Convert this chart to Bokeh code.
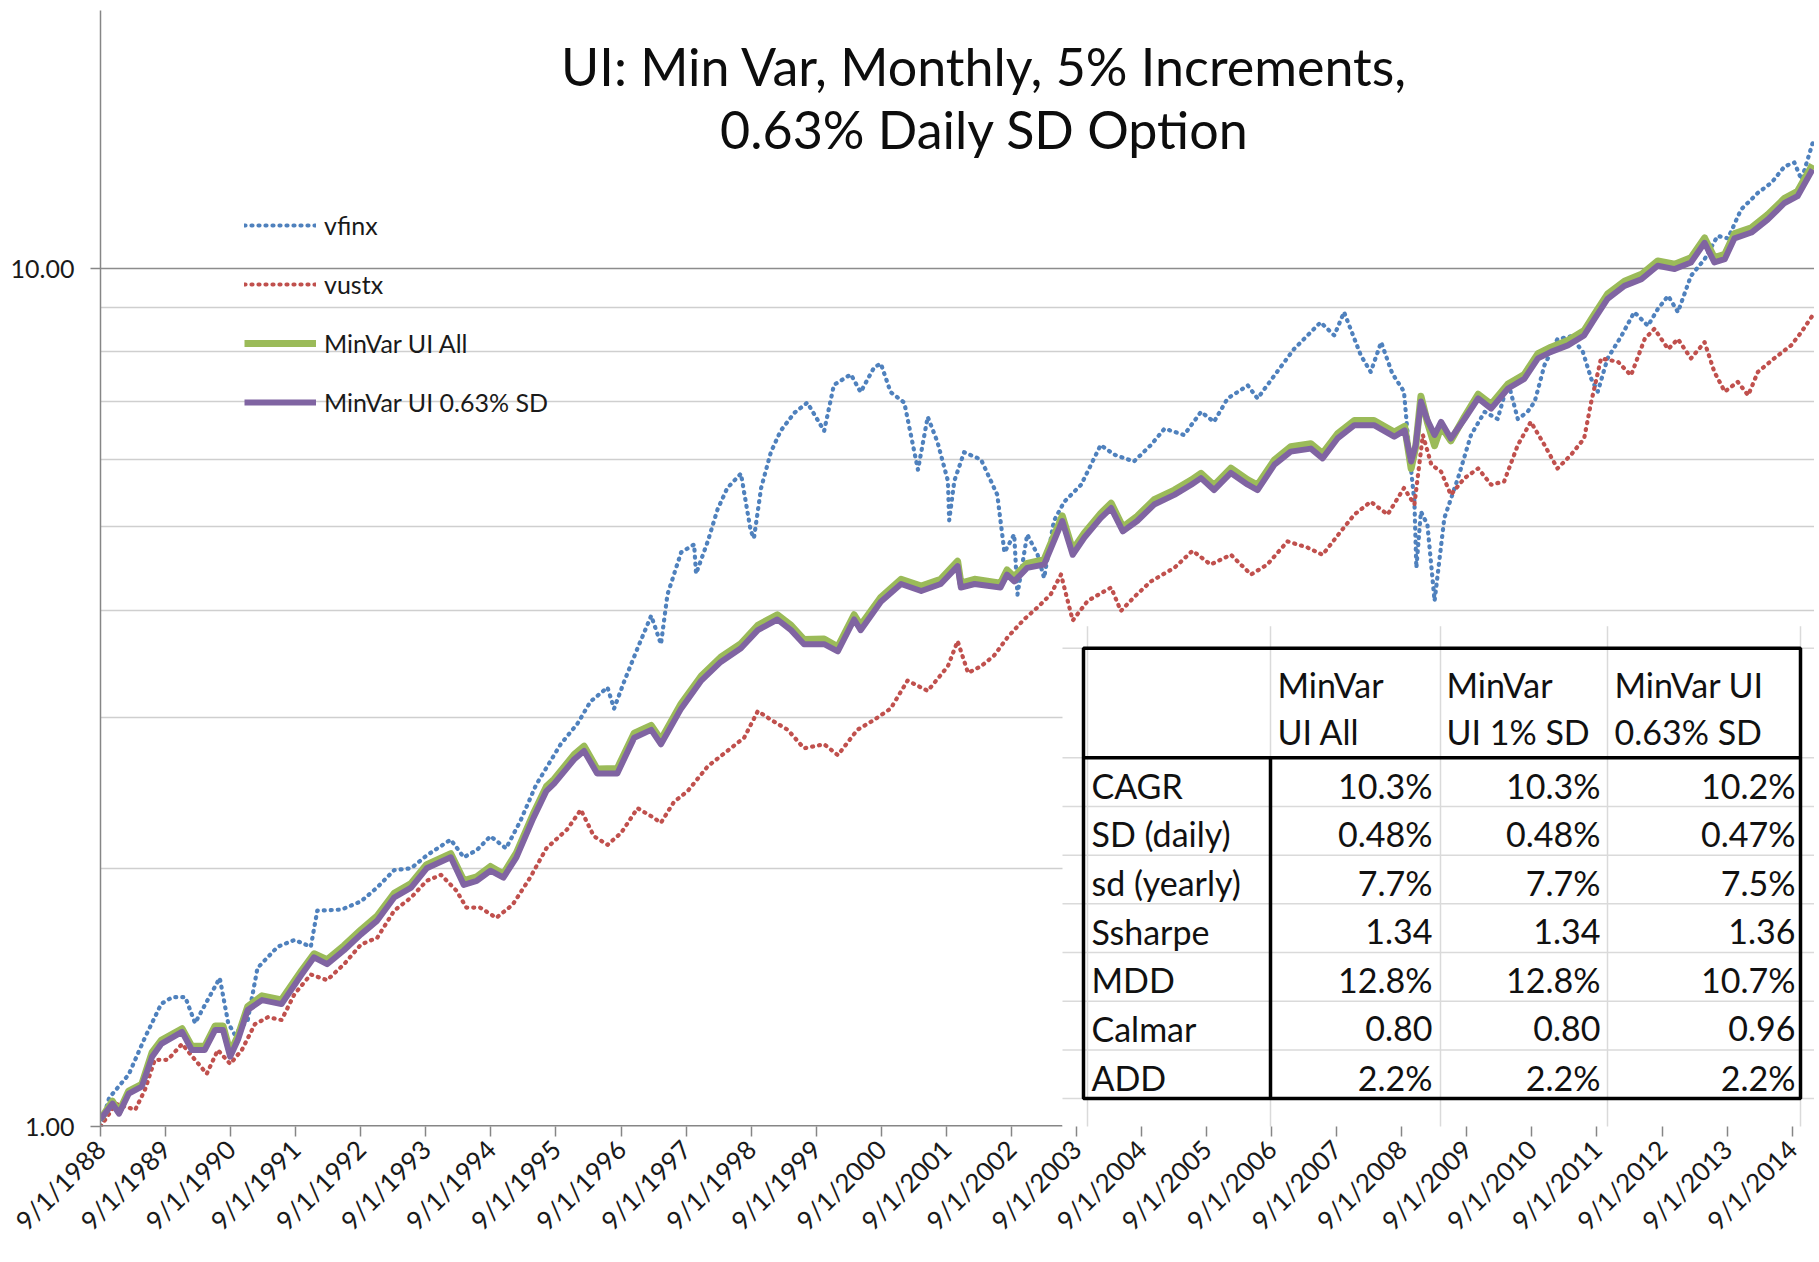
import math
import pandas as pd
from bokeh.plotting import figure
from bokeh.models import Range1d, FixedTicker, CustomJSTickFormatter, Legend, LegendItem
from bokeh.core.properties import value
from bokeh.embed import file_html
from bokeh.resources import INLINE

# ---------------- data ----------------
vfinx_dates = [1988.67, 1988.80, 1989.10, 1989.35, 1989.60, 1989.77, 1989.97, 1990.12, 1990.27, 1990.50,
               1990.63, 1990.73, 1990.93, 1991.08, 1991.39, 1991.65, 1991.90, 1992.00, 1992.37, 1992.67,
               1992.92, 1993.18, 1993.44, 1993.68, 1994.05, 1994.25, 1994.45, 1994.66, 1994.90, 1995.12,
               1995.36, 1995.74, 1996.00, 1996.20, 1996.46, 1996.56, 1996.72, 1996.92, 1997.13, 1997.28,
               1997.38, 1997.59, 1997.79, 1997.82, 1998.00, 1998.15, 1998.30, 1998.51, 1998.66, 1998.71,
               1998.82, 1998.97, 1999.12, 1999.33, 1999.53, 1999.79, 1999.94, 2000.20, 2000.35, 2000.56,
               2000.66, 2000.81, 2001.02, 2001.23, 2001.38, 2001.53, 2001.69, 2001.71, 2001.79, 2001.94,
               2002.20, 2002.45, 2002.56, 2002.71, 2002.76, 2002.91, 2003.07, 2003.17, 2003.32, 2003.48,
               2003.74, 2004.04, 2004.25, 2004.55, 2004.81, 2005.02, 2005.32, 2005.58, 2005.78, 2005.99,
               2006.30, 2006.45, 2006.71, 2007.01, 2007.42, 2007.63, 2007.78, 2008.04, 2008.19, 2008.35,
               2008.52, 2008.70, 2008.78, 2008.86, 2008.89, 2008.96, 2009.06, 2009.17, 2009.32, 2009.53,
               2009.73, 2009.94, 2010.14, 2010.30, 2010.45, 2010.60, 2010.71, 2010.86, 2011.06, 2011.27,
               2011.45, 2011.58, 2011.68, 2011.83, 2012.04, 2012.24, 2012.45, 2012.60, 2012.76, 2012.91,
               2013.11, 2013.32, 2013.52, 2013.68, 2013.88, 2014.14, 2014.35, 2014.55, 2014.70, 2014.81,
               2014.98]
vfinx_values = [1.00, 1.08, 1.15, 1.27, 1.39, 1.415, 1.415, 1.32, 1.385, 1.49,
                1.32, 1.28, 1.33, 1.53, 1.62, 1.65, 1.62, 1.785, 1.79, 1.83,
                1.90, 1.99, 2.00, 2.07, 2.16, 2.06, 2.10, 2.18, 2.11, 2.27,
                2.50, 2.79, 2.95, 3.13, 3.25, 3.07, 3.31, 3.61, 3.94, 3.65,
                4.17, 4.67, 4.77, 4.41, 4.81, 5.24, 5.55, 5.77, 4.95, 4.85,
                5.55, 6.11, 6.47, 6.79, 6.98, 6.47, 7.32, 7.53, 7.18, 7.68,
                7.75, 7.18, 6.98, 5.83, 6.72, 6.28, 5.66, 5.09, 5.66, 6.11,
                5.99, 5.45, 4.67, 4.90, 4.17, 4.90, 4.64, 4.36, 5.08, 5.35,
                5.60, 6.23, 6.07, 5.96, 6.23, 6.51, 6.40, 6.81, 6.63, 7.06,
                7.31, 7.06, 7.51, 8.06, 8.66, 8.36, 8.90, 7.92, 7.58, 8.21,
                7.55, 7.19, 6.12, 5.35, 4.48, 5.21, 5.03, 4.10, 5.12, 5.70,
                6.40, 6.81, 6.68, 7.38, 6.68, 6.81, 7.00, 7.72, 8.28, 8.34,
                8.00, 7.44, 7.19, 7.86, 8.34, 8.90, 8.58, 8.97, 9.30, 8.90,
                9.81, 10.26, 10.92, 10.85, 11.72, 12.26, 12.60, 13.16, 13.30, 12.70,
                14.00]

vustx_dates = [1988.67, 1988.90, 1989.20, 1989.35, 1989.50, 1989.70, 1989.92, 1990.12, 1990.30, 1990.47,
               1990.66, 1990.84, 1991.04, 1991.24, 1991.45, 1991.65, 1991.90, 1992.15, 1992.41, 1992.67,
               1992.92, 1993.18, 1993.44, 1993.68, 1993.90, 1994.14, 1994.29, 1994.50, 1994.75, 1995.00,
               1995.27, 1995.52, 1995.84, 1996.05, 1996.25, 1996.46, 1996.67, 1996.92, 1997.13, 1997.28,
               1997.48, 1997.69, 1998.00, 1998.30, 1998.56, 1998.77, 1998.97, 1999.23, 1999.48, 1999.79,
               2000.00, 2000.30, 2000.56, 2000.81, 2001.07, 2001.38, 2001.69, 2001.84, 2002.00, 2002.20,
               2002.40, 2002.61, 2002.86, 2003.07, 2003.27, 2003.43, 2003.61, 2003.84, 2004.20, 2004.35,
               2004.55, 2004.81, 2005.17, 2005.45, 2005.73, 2006.04, 2006.35, 2006.60, 2006.91, 2007.22,
               2007.45, 2007.73, 2007.94, 2008.19, 2008.45, 2008.70, 2008.86, 2008.99, 2009.12, 2009.27,
               2009.42, 2009.63, 2009.84, 2010.04, 2010.24, 2010.45, 2010.65, 2010.86, 2011.06, 2011.27,
               2011.47, 2011.58, 2011.73, 2011.99, 2012.19, 2012.40, 2012.55, 2012.76, 2012.91, 2013.11,
               2013.32, 2013.47, 2013.63, 2013.83, 2013.99, 2014.14, 2014.39, 2014.65, 2014.81, 2014.98]
vustx_values = [1.00, 1.063, 1.046, 1.104, 1.196, 1.196, 1.248, 1.196, 1.152, 1.228,
                1.183, 1.228, 1.316, 1.341, 1.331, 1.427, 1.504, 1.481, 1.546, 1.63,
                1.66, 1.785, 1.849, 1.934, 1.965, 1.882, 1.80, 1.80, 1.751, 1.813,
                1.95, 2.11, 2.22, 2.34, 2.18, 2.13, 2.20, 2.35, 2.30, 2.26,
                2.39, 2.46, 2.63, 2.74, 2.84, 3.05, 2.98, 2.90, 2.76, 2.79,
                2.71, 2.90, 2.98, 3.07, 3.31, 3.22, 3.44, 3.68, 3.38, 3.44,
                3.54, 3.72, 3.90, 4.03, 4.17, 4.40, 3.89, 4.10, 4.25, 3.99,
                4.14, 4.32, 4.48, 4.69, 4.52, 4.64, 4.40, 4.52, 4.81, 4.73,
                4.64, 4.94, 5.17, 5.35, 5.17, 5.55, 5.31, 6.40, 5.91, 5.80,
                5.45, 5.70, 5.85, 5.60, 5.65, 6.23, 6.63, 6.23, 5.85, 6.07,
                6.34, 7.00, 7.86, 7.79, 7.51, 8.28, 8.51, 8.06, 8.28, 7.86,
                8.21, 7.58, 7.19, 7.38, 7.12, 7.58, 7.86, 8.14, 8.44, 8.82]

minvar_dates = [1988.67, 1988.85, 1988.95, 1989.10, 1989.30, 1989.46, 1989.60, 1989.92, 1990.07, 1990.27,
                1990.43, 1990.55, 1990.66, 1990.78, 1990.93, 1991.15, 1991.45, 1991.76, 1991.95, 1992.15,
                1992.41, 1992.67, 1992.92, 1993.18, 1993.44, 1993.68, 1994.05, 1994.25, 1994.45, 1994.66,
                1994.86, 1995.06, 1995.32, 1995.52, 1995.64, 1995.95, 1996.10, 1996.30, 1996.61, 1996.87,
                1997.13, 1997.28, 1997.59, 1997.90, 1998.20, 1998.51, 1998.77, 1999.07, 1999.28, 1999.48,
                1999.79, 2000.00, 2000.25, 2000.35, 2000.66, 2000.97, 2001.28, 2001.58, 2001.84, 2001.89,
                2002.10, 2002.50, 2002.60, 2002.71, 2002.91, 2003.17, 2003.45, 2003.61, 2003.79, 2004.04,
                2004.20, 2004.38, 2004.60, 2004.86, 2005.17, 2005.43, 2005.58, 2005.78, 2006.04, 2006.30,
                2006.45, 2006.71, 2006.96, 2007.27, 2007.45, 2007.68, 2007.94, 2008.24, 2008.55, 2008.71,
                2008.81, 2008.88, 2008.96, 2009.06, 2009.17, 2009.27, 2009.42, 2009.63, 2009.84, 2010.04,
                2010.30, 2010.55, 2010.76, 2010.96, 2011.22, 2011.47, 2011.63, 2011.83, 2012.09, 2012.35,
                2012.60, 2012.86, 2013.11, 2013.32, 2013.47, 2013.63, 2013.78, 2014.04, 2014.29, 2014.55,
                2014.75, 2014.98]
minvar_all_values = [1.02, 1.07, 1.04, 1.10, 1.12, 1.22, 1.26, 1.30, 1.24, 1.24,
                     1.31, 1.31, 1.22, 1.275, 1.38, 1.42, 1.405, 1.52, 1.59, 1.565,
                     1.625, 1.695, 1.76, 1.87, 1.92, 2.02, 2.08, 1.935, 1.955, 2.01,
                     1.97, 2.085, 2.315, 2.49, 2.54, 2.715, 2.775, 2.61, 2.615, 2.875,
                     2.935, 2.825, 3.11, 3.35, 3.525, 3.655, 3.84, 3.95, 3.84, 3.695,
                     3.70, 3.625, 3.95, 3.84, 4.14, 4.345, 4.265, 4.345, 4.56, 4.30,
                     4.345, 4.30, 4.455, 4.375, 4.535, 4.58, 5.15, 4.70, 4.92, 5.185,
                     5.33, 5.00, 5.145, 5.38, 5.52, 5.67, 5.775, 5.59, 5.855, 5.675,
                     5.595, 5.985, 6.20, 6.25, 6.09, 6.42, 6.655, 6.655, 6.45, 6.55,
                     5.85, 6.20, 7.10, 6.62, 6.22, 6.55, 6.30, 6.72, 7.14, 6.95,
                     7.34, 7.53, 7.96, 8.10, 8.25, 8.47, 8.85, 9.34, 9.67, 9.85,
                     10.21, 10.12, 10.30, 10.86, 10.30, 10.39, 10.99, 11.16, 11.56, 12.08,
                     12.31, 13.22]
minvar_sd_values = [1.02, 1.063, 1.035, 1.092, 1.113, 1.206, 1.248, 1.289, 1.228, 1.228,
                    1.296, 1.296, 1.206, 1.262, 1.367, 1.404, 1.389, 1.504, 1.575, 1.546,
                    1.605, 1.675, 1.738, 1.849, 1.899, 2.00, 2.06, 1.913, 1.934, 1.987,
                    1.95, 2.06, 2.288, 2.46, 2.51, 2.68, 2.74, 2.58, 2.58, 2.84,
                    2.90, 2.79, 3.07, 3.31, 3.48, 3.61, 3.79, 3.90, 3.79, 3.65,
                    3.65, 3.58, 3.90, 3.79, 4.09, 4.29, 4.21, 4.29, 4.50, 4.25,
                    4.29, 4.25, 4.40, 4.32, 4.48, 4.52, 5.08, 4.64, 4.86, 5.12,
                    5.26, 4.94, 5.08, 5.31, 5.45, 5.60, 5.70, 5.52, 5.78, 5.60,
                    5.52, 5.91, 6.12, 6.17, 6.01, 6.34, 6.57, 6.57, 6.37, 6.48,
                    5.96, 6.23, 7.00, 6.66, 6.40, 6.63, 6.34, 6.68, 7.06, 6.87,
                    7.25, 7.44, 7.86, 8.00, 8.14, 8.36, 8.74, 9.22, 9.55, 9.72,
                    10.08, 9.99, 10.17, 10.72, 10.17, 10.26, 10.85, 11.02, 11.41, 11.93,
                    12.15, 13.05]

series_names = ["vfinx", "vustx", "MinVar UI All", "MinVar UI 0.63% SD"]
tick_years = list(range(1988, 2015))
y_tick_values = [1, 10]
y_minor_values = [2, 3, 4, 5, 6, 7, 8, 9, 20]

title_lines = ["UI: Min Var, Monthly, 5% Increments,", "0.63% Daily SD Option"]
table_headers = [["MinVar", "UI All"], ["MinVar", "UI 1% SD"], ["MinVar UI", "0.63% SD"]]
table_rows = ["CAGR", "SD (daily)", "sd (yearly)", "Ssharpe", "MDD", "Calmar", "ADD"]
col_ui_all = ["10.3%", "0.48%", "7.7%", "1.34", "12.8%", "0.80", "2.2%"]
col_ui_1sd = ["10.3%", "0.48%", "7.7%", "1.34", "12.8%", "0.80", "2.2%"]
col_ui_063sd = ["10.2%", "0.47%", "7.5%", "1.36", "10.7%", "0.96", "2.2%"]

# ---------------- helpers ----------------
FONT = "Lato"


def to_ms(y):
    yr = int(math.floor(y))
    a = pd.Timestamp(yr, 1, 1)
    b = pd.Timestamp(yr + 1, 1, 1)
    return (a + (b - a) * (y - yr)).value / 1e6


def date_ms(s):
    return pd.Timestamp(s).value / 1e6


# frame geometry in page pixels (layout only)
FL, FR, FT, FB = 100.0, 1814.0, 10.0, 1130.0
x_start = date_ms("1988-09-01")
x_2014 = date_ms("2014-09-01")
x_end = x_start + (x_2014 - x_start) * (FR - FL) / (1791.6 - FL)
Y_MIN, Y_MAX = 1.0, 20.0


def X(px):
    return x_start + (px - FL) / (FR - FL) * (x_end - x_start)


def Y(py):
    return 10 ** (math.log10(Y_MIN) + (FB - py) / (FB - FT) * (math.log10(Y_MAX) - math.log10(Y_MIN)))


p = figure(width=int(FR), height=1250, x_axis_type="datetime", y_axis_type="log",
           x_range=Range1d(x_start, x_end), y_range=Range1d(Y_MIN, Y_MAX),
           output_backend="svg", toolbar_location=None,
           min_border_left=int(FL), min_border_right=0, min_border_top=int(FT), min_border_bottom=120)
p.title.visible = False
p.outline_line_color = None
p.background_fill_color = "white"
p.border_fill_color = "white"

# axes
xt = FixedTicker(ticks=[date_ms(f"{y}-09-01") for y in tick_years])
p.xaxis.ticker = xt
p.xaxis.formatter = CustomJSTickFormatter(code="""
const d = new Date(tick);
return (d.getUTCMonth() + 1) + '/' + d.getUTCDate() + '/' + d.getUTCFullYear();
""")
p.xaxis.major_label_orientation = math.pi / 4
p.xaxis.axis_line_color = None
p.xaxis.major_tick_line_color = "#868686"
p.xaxis.major_tick_line_width = 1.5
p.xaxis.major_tick_out = 10
p.xaxis.major_tick_in = 0
p.xaxis.minor_tick_line_color = None
p.xaxis.major_label_text_font = FONT
p.xaxis.major_label_text_font_size = "26px"
p.xaxis.major_label_text_color = "#1a1a1a"
p.xaxis.major_label_standoff = 8

yt = FixedTicker(ticks=y_tick_values, minor_ticks=y_minor_values)
p.yaxis.ticker = yt
p.yaxis.formatter = CustomJSTickFormatter(code="return tick.toFixed(2);")
p.yaxis.axis_line_color = "#868686"
p.yaxis.axis_line_width = 1.5
p.yaxis.major_tick_line_color = "#868686"
p.yaxis.major_tick_line_width = 1.5
p.yaxis.major_tick_out = 10
p.yaxis.major_tick_in = 0
p.yaxis.minor_tick_line_color = None
p.yaxis.major_label_text_font = FONT
p.yaxis.major_label_text_font_size = "25px"
p.yaxis.major_label_text_color = "#1a1a1a"
p.yaxis.major_label_standoff = 16

p.xgrid.visible = False
p.ygrid.ticker = yt
p.ygrid.grid_line_color = "#8c8c8c"
p.ygrid.grid_line_width = 1.5
p.ygrid.minor_grid_line_color = "#cfcfcf"
p.ygrid.minor_grid_line_width = 1.5

# series
r1 = p.line([to_ms(d) for d in vfinx_dates], vfinx_values, line_color="#4F81BD", line_width=4.2,
            line_dash="1 6", line_cap="round", line_join="round")
r2 = p.line([to_ms(d) for d in vustx_dates], vustx_values, line_color="#C0504D", line_width=4.2,
            line_dash="1 6", line_cap="round", line_join="round")
mv_x = [to_ms(d) for d in minvar_dates]
r3 = p.line(mv_x, minvar_all_values, line_color="#9BBB59", line_width=7, line_join="round")
r4 = p.line(mv_x, minvar_sd_values, line_color="#8064A2", line_width=6, line_join="round")

legend = Legend(items=[LegendItem(label=n, renderers=[r]) for n, r in zip(series_names, [r1, r2, r3, r4])],
                location=(144, 709), orientation="vertical", glyph_width=72, glyph_height=24,
                label_height=24, spacing=29, padding=0, margin=0, label_standoff=8,
                label_text_font=FONT, label_text_font_size="25px", label_text_color="#1a1a1a",
                background_fill_alpha=0, border_line_alpha=0)
p.add_layout(legend)

# x axis line (covered by table picture on the right)
p.segment(x0=[x_start], y0=[Y_MIN], x1=[X(1062)], y1=[Y_MIN], line_color="#868686", line_width=3)

# title
p.text(x=[X(984), X(984)], y=[Y(66), Y(129)], text=title_lines, text_align="center",
       text_baseline="middle", text_font=value(FONT), text_font_size="52px", text_color="#0d0d0d")

# ---------------- table picture ----------------
TL, TR, TT, TB = 1083, 1800, 650, 1102
HB = 760
C1 = 1270
col_lines = [1087, 1270, 1440, 1607, 1800]
row_h = (TB - HB) / len(table_rows)
row_lines = [TT, HB] + [HB + row_h * (i + 1) for i in range(len(table_rows))]

p.quad(left=[X(1062)], right=[X(FR + 10)], top=[Y(628)], bottom=[Y(FB + 10)],
       fill_color="white", line_color=None)
p.segment(x0=[X(c) for c in col_lines], y0=[Y(628)] * len(col_lines),
          x1=[X(c) for c in col_lines], y1=[Y(FB + 10)] * len(col_lines),
          line_color="#dadada", line_width=1.5)
p.segment(x0=[X(1062)] * len(row_lines), y0=[Y(r) for r in row_lines],
          x1=[X(FR + 10)] * len(row_lines), y1=[Y(r) for r in row_lines],
          line_color="#dadada", line_width=1.5)
# black borders
p.quad(left=[X(TL)], right=[X(TR)], top=[Y(TT)], bottom=[Y(TB)], fill_color=None,
       line_color="black", line_width=3.5)
p.segment(x0=[X(TL), X(C1)], y0=[Y(HB), Y(HB)], x1=[X(TR), X(C1)], y1=[Y(HB), Y(TB)],
          line_color="black", line_width=3.5)

FS = "34px"
# header
hx = [1277, 1446, 1614]
tx, ty, tt = [], [], []
for x0, lines in zip(hx, table_headers):
    for ly, line in zip([686, 734], lines):
        tx.append(X(x0)); ty.append(Y(ly)); tt.append(line)
p.text(x=tx, y=ty, text=tt, text_align="left", text_baseline="middle",
       text_font=value(FONT), text_font_size=FS, text_color="#111111")
# row labels
centers = [HB + row_h * (i + 0.5) + 3 for i in range(len(table_rows))]
p.text(x=[X(1091)] * len(table_rows), y=[Y(c) for c in centers], text=table_rows, text_align="left",
       text_baseline="middle", text_font=value(FONT), text_font_size=FS, text_color="#111111")
# values
vx, vy, vt = [], [], []
for x0, col in zip([1432, 1600, 1795], [col_ui_all, col_ui_1sd, col_ui_063sd]):
    for c, v in zip(centers, col):
        vx.append(X(x0)); vy.append(Y(c)); vt.append(v)
p.text(x=vx, y=vy, text=vt, text_align="right", text_baseline="middle",
       text_font=value(FONT), text_font_size=FS, text_color="#111111")

open("out.html", "w").write(file_html(p, INLINE))
